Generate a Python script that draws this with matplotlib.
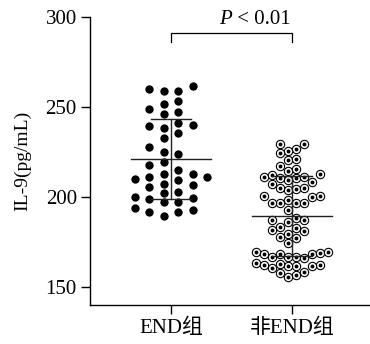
import numpy as np
import matplotlib
matplotlib.use("Agg")
import matplotlib.pyplot as plt

categories = ["END组", "非END组"]
end_values = [261.7, 259.1, 258.7, 260.0, 253.3, 251.8, 249.1, 247.1, 246.3, 241.3,
              239.6, 238.5, 239.8, 235.4, 232.8, 227.8, 225.0, 223.7, 219.6, 217.6,
              215.0, 212.9, 211.1, 213.0, 211.0, 209.3, 209.8, 207.1, 206.8, 205.7,
              202.1, 202.9, 200.2, 199.4, 197.1, 197.4, 198.7, 191.8, 191.9, 193.7,
              192.8, 189.6]
non_end_values = [229.4, 229.5, 226.7, 225.6, 224.3, 220.6, 220.9, 217.2, 214.4, 215.4,
                  211.3, 210.4, 211.2, 212.2, 212.6, 209.4, 210.5, 208.5, 207.2, 203.9,
                  204.3, 205.2, 204.8, 200.6, 200.2, 200.5, 196.5, 196.4, 196.8, 196.6,
                  198.3, 192.8, 188.5, 186.3, 187.2, 187.1, 183.5, 182.6, 181.7, 181.1,
                  179.3, 177.1, 177.9, 174.3, 166.8, 168.2, 168.7, 169.6, 165.9, 166.9,
                  169.5, 168.1, 168.6, 166.7, 161.8, 163.2, 162.2, 160.4, 161.7, 162.6,
                  162.5, 161.9, 155.7, 156.7, 157.6, 158.5]
y_ticks = [150, 200, 250, 300]

plt.rcParams['font.family'] = ['Liberation Serif', 'Noto Sans CJK SC', 'DejaVu Sans']

W, H = 370, 344
fig = plt.figure(figsize=(W / 100, H / 100), dpi=100)
ax = fig.add_axes([90 / W, 1 - 305 / H, (369 - 90) / W, (305 - 17) / H])
ax.set_ylim(140, 300)
ax.set_xlim(-0.668, 1.632)

px_per_x = 121.3          # pixels per x data unit
px_per_y = 288 / 160.0    # pixels per y data unit


def swarm(vals, col_px, thresh_px):
    vals = np.asarray(vals, float)
    order = np.argsort(vals)
    cols = []
    for k in range(8):
        cols += [-(k + 0.5) * col_px, (k + 0.5) * col_px]
    placed = {c: [] for c in cols}
    off = np.zeros(len(vals))
    for i in order:
        y = vals[i] * px_per_y
        for c in cols:
            if all(abs(y - yy) >= thresh_px for yy in placed[c]):
                placed[c].append(y)
                off[i] = c / px_per_x
                break
    return off


groups = [end_values, non_end_values]
offs = [swarm(end_values, 14.4, 9.0), swarm(non_end_values, 8.0, 9.0)]

# group 1 solid dots
ax.plot(0 + offs[0], end_values, 'o', ms=6.0, mfc='black', mec='black', mew=0, zorder=3)
# group 2 ringed dots
ax.plot(1 + offs[1], non_end_values, 'o', ms=6.0, mfc='white', mec='black', mew=0.8, zorder=3)
ax.plot(1 + offs[1], non_end_values, 'o', ms=2.8, mfc='black', mec='black', mew=0, zorder=4)

# mean and SD
for i, vals in enumerate(groups):
    m = np.mean(vals)
    s = np.std(vals, ddof=1)
    kw = dict(color='#222222', lw=1.0, zorder=5)
    ax.plot([i - 0.33, i + 0.33], [m, m], **kw)
    ax.plot([i, i], [m - s, m + s], **kw)
    ax.plot([i - 0.165, i + 0.165], [m + s, m + s], **kw)
    ax.plot([i - 0.165, i + 0.165], [m - s, m - s], **kw)

# significance bracket
ax.plot([0, 0, 1, 1], [286.3, 290.9, 290.9, 286.3], color='black', lw=0.9, clip_on=False)
ax.text(0.5, 293.3, "P", style='italic', ha='right', va='bottom', fontsize=15, clip_on=False)
ax.text(0.5, 293.3, " < 0.01", ha='left', va='bottom', fontsize=15, clip_on=False)

for sp in ['top', 'right']:
    ax.spines[sp].set_visible(False)
for sp in ['left', 'bottom']:
    ax.spines[sp].set_linewidth(1.0)

ax.set_yticks(y_ticks)
ax.set_yticklabels([str(t) for t in y_ticks], fontsize=15)
ax.set_xticks([0, 1])
ax.set_xticklabels(categories, fontsize=15)
ax.tick_params(axis='both', length=6.5, width=1.0, direction='out', pad=3)
ax.set_ylabel("IL-9(pg/mL)", fontsize=14, labelpad=10)

fig.savefig("out.png", dpi=100)
